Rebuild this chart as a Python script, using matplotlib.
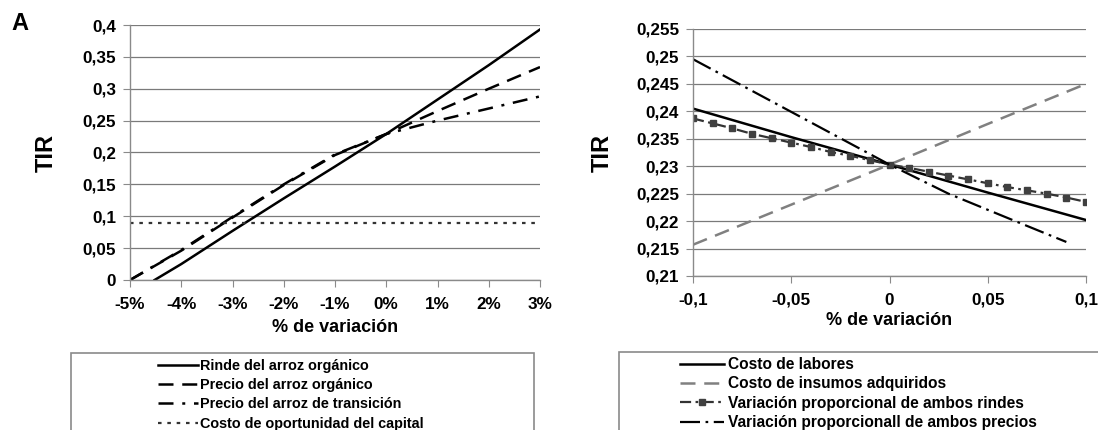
import numpy as np
import matplotlib
matplotlib.use("Agg")
import matplotlib.pyplot as plt
from matplotlib.lines import Line2D
from matplotlib.patches import Rectangle

plt.rcParams['font.family'] = ['Liberation Sans', 'DejaVu Sans']

# --- panel A izquierdo: % de variacion (-5% .. 3%) ---
pct = [-5, -4, -3, -2, -1, 0, 1, 2, 3]
rinde_x = [-4.52, -4, -3, -2, -1, 0, 1, 2, 3]
rinde_y = [0, 0.025, 0.077, 0.128, 0.178, 0.229, 0.283, 0.337, 0.393]
precio_org = [0, 0.046, 0.098, 0.149, 0.196, 0.229, 0.265, 0.300, 0.334]
precio_trans = [0, 0.047, 0.099, 0.150, 0.197, 0.229, 0.250, 0.269, 0.288]
costo_oport = [0.09] * 9
left_labels = ['Rinde del arroz orgánico', 'Precio del arroz orgánico',
               'Precio del arroz de transición', 'Costo de oportunidad del capital']

# --- panel derecho: variacion -0.1 .. 0.1 ---
var = [-0.1, -0.09, -0.08, -0.07, -0.06, -0.05, -0.04, -0.03, -0.02, -0.01, 0,
       0.01, 0.02, 0.03, 0.04, 0.05, 0.06, 0.07, 0.08, 0.09, 0.1]
var5 = [-0.1, -0.05, 0, 0.05, 0.1]
labores = [0.2405, 0.2353, 0.2303, 0.2252, 0.2202]
insumos = [0.2157, 0.2230, 0.2303, 0.2377, 0.2450]
rindes = [0.2387, 0.2378, 0.2369, 0.2359, 0.2351, 0.2343, 0.2335, 0.2326, 0.2319, 0.2311,
          0.2303, 0.2297, 0.2290, 0.2283, 0.2276, 0.2269, 0.2262, 0.2256, 0.2250, 0.2243, 0.2235]
precios_x = [-0.1, -0.05, 0, 0.03, 0.064, 0.09]
precios = [0.2495, 0.2399, 0.2303, 0.2250, 0.2200, 0.2162]
right_labels = ['Costo de labores', 'Costo de insumos adquiridos',
                'Variación proporcional de ambos rindes', 'Variación proporcionall de ambos precios']


def fmt(v):
    s = ('%.3f' % v).rstrip('0').rstrip('.')
    return s.replace('.', ',')


def style_axes(ax):
    for s in ['top', 'right']:
        ax.spines[s].set_visible(False)
    for s in ['left', 'bottom']:
        ax.spines[s].set_color('#8a8a8a')
        ax.spines[s].set_linewidth(1.0)
    ax.grid(axis='y', color='#7a7a7a', lw=0.9)
    ax.set_axisbelow(True)
    ax.tick_params(direction='out', length=5, color='#8a8a8a', labelsize=12.3)
    ax.tick_params(axis='x', pad=7)
    ax.tick_params(axis='y', pad=5)
    for t in ax.get_xticklabels() + ax.get_yticklabels():
        t.set_fontweight('bold')


fig = plt.figure(figsize=(10.98, 4.3), dpi=100)
ax1 = fig.add_axes([130 / 1098, 1 - 280 / 430, 410 / 1098, 255 / 430])
ax2 = fig.add_axes([693 / 1098, 1 - 276 / 430, 393 / 1098, 247 / 430])

# izquierda
ax1.plot(rinde_x, rinde_y, color='black', lw=1.8)
ax1.plot(pct, precio_org, color='black', lw=1.8, dashes=(6, 3.5))
ax1.plot(pct, precio_trans, color='black', lw=1.8, dashes=(6, 3.5, 1.2, 3.5))
ax1.plot(pct[:-1] + [2.9], costo_oport, color='#333333', lw=1.6, dashes=(1.6, 2.6))
ax1.set_xlim(-5, 3)
ax1.set_ylim(0, 0.4)
yt1 = np.arange(0, 0.401, 0.05)
ax1.set_yticks(yt1)
ax1.set_yticklabels([fmt(v) for v in yt1])
ax1.set_xticks(pct)
ax1.set_xticklabels(['%d%%' % p for p in pct])
style_axes(ax1)
ax1.set_ylabel('TIR', fontsize=17, fontweight='bold', labelpad=18)
ax1.set_xlabel('% de variación', fontsize=13, fontweight='bold', labelpad=5)

# derecha
ax2.plot(var5, labores, color='black', lw=1.8)
ax2.plot(var5, insumos, color='#808080', lw=1.8, dashes=(6, 3.5))
ax2.plot(var, rindes, color='#333333', lw=1.6, dashes=(5, 2, 1.2, 2),
         marker='s', ms=5, mfc='#404040', mec='#404040')
ax2.plot(precios_x, precios, color='black', lw=1.6, dashes=(9, 2.5, 1.2, 2.5))
ax2.set_xlim(-0.1, 0.1)
ax2.set_ylim(0.21, 0.255)
yt2 = np.arange(0.21, 0.2551, 0.005)
ax2.set_yticks(yt2)
ax2.set_yticklabels([fmt(v) for v in yt2])
ax2.set_xticks(var5)
ax2.set_xticklabels([fmt(v) for v in var5])
style_axes(ax2)
ax2.set_ylabel('TIR', fontsize=17, fontweight='bold', labelpad=16)
ax2.set_xlabel('% de variación', fontsize=13, fontweight='bold', labelpad=3)

fig.text(11 / 1098, 1 - 24 / 430, 'A', fontsize=17, fontweight='bold', va='center')

# cajas de leyenda (cortadas por el borde inferior)
fig.add_artist(Rectangle((71 / 1098, -0.1), 463 / 1098, 0.1 + 1 - 353 / 430,
                         transform=fig.transFigure, fill=False, ec='#8a8a8a', lw=1.2))
fig.add_artist(Rectangle((619 / 1098, -0.1), 0.5, 0.1 + 1 - 352 / 430,
                         transform=fig.transFigure, fill=False, ec='#8a8a8a', lw=1.2))

h_left = [Line2D([], [], color='black', lw=1.8),
          Line2D([], [], color='black', lw=1.8, dashes=(6, 3.5)),
          Line2D([], [], color='black', lw=1.8, dashes=(6, 3.5, 1.2, 3.5)),
          Line2D([], [], color='#333333', lw=1.6, dashes=(1.6, 2.6))]
h_right = [Line2D([], [], color='black', lw=1.8),
           Line2D([], [], color='#808080', lw=1.8, dashes=(6, 3.5)),
           Line2D([], [], color='#333333', lw=1.6, dashes=(5, 2, 1.2, 2), marker='s',
                  ms=4, mfc='#404040', mec='#404040'),
           Line2D([], [], color='black', lw=1.6, dashes=(9, 2.5, 1.2, 2.5))]

fig.legend(h_left, left_labels, loc='upper left', frameon=False, borderpad=0, borderaxespad=0,
           handlelength=2.77, handletextpad=0.15, labelspacing=0.36,
           prop={'weight': 'bold', 'size': 10.4}, bbox_transform=fig.transFigure,
           bbox_to_anchor=(158 / 1098, 1 - 359 / 430))
fig.legend(h_right, right_labels, loc='upper left', frameon=False, borderpad=0, borderaxespad=0,
           handlelength=2.83, handletextpad=0.26, labelspacing=0.28,
           prop={'weight': 'bold', 'size': 11.2}, bbox_transform=fig.transFigure,
           bbox_to_anchor=(680 / 1098, 1 - 357 / 430))

fig.savefig('out.png', dpi=100)
